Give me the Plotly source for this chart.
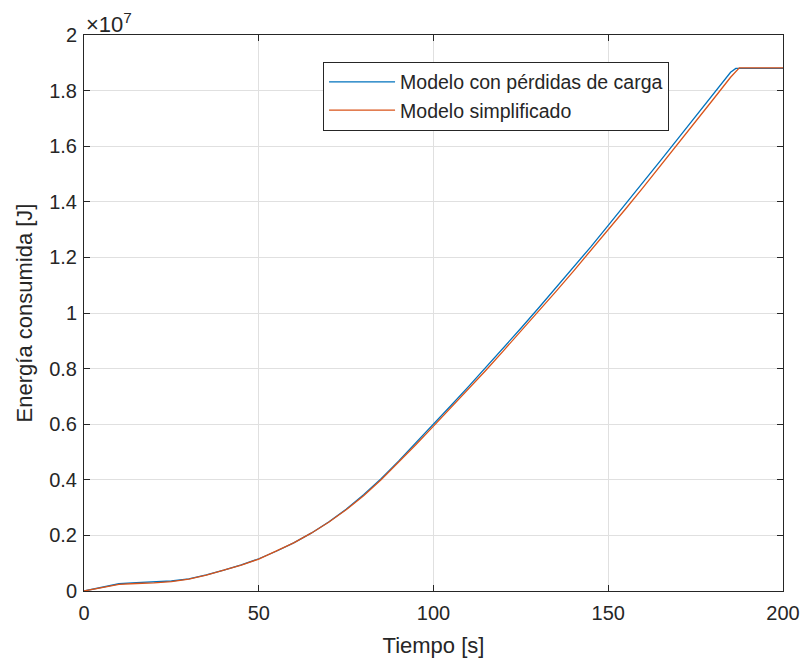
import plotly.graph_objects as go

# Time [s]
t_perdidas = [0, 5, 10, 15, 20, 25, 30, 35, 40, 45, 50, 55, 60, 65, 70, 75, 80, 85, 90, 95,
              100, 105, 110, 115, 120, 125, 130, 135, 140, 145, 150, 155, 160, 165, 170, 175,
              180, 185, 186.5, 200]
# Energy [x 1e5 J] - Modelo con pérdidas de carga
e_perdidas = [0, 1.3, 2.6, 3.0, 3.2, 3.6, 4.4, 5.8, 7.5, 9.4, 11.6, 14.3, 17.3, 20.8, 24.8, 29.4,
              34.6, 40.4, 46.7, 53.3, 60.0, 66.7, 73.5, 80.4, 87.4, 94.5, 101.7, 109.0, 116.3,
              123.8, 131.5, 139.2, 147.0, 154.9, 162.8, 170.8, 178.8, 186.6, 188.0, 188.0]

t_simpl = [0, 5, 10, 15, 20, 25, 30, 35, 40, 45, 50, 55, 60, 65, 70, 75, 80, 85, 90, 95,
           100, 105, 110, 115, 120, 125, 130, 135, 140, 145, 150, 155, 160, 165, 170, 175,
           180, 185, 187.5, 200]
# Energy [x 1e5 J] - Modelo simplificado
e_simpl = [0, 1.2, 2.4, 2.7, 2.9, 3.4, 4.3, 5.7, 7.4, 9.3, 11.5, 14.3, 17.3, 20.8, 24.7, 29.2,
           34.3, 40.0, 46.2, 52.7, 59.3, 65.9, 72.6, 79.4, 86.4, 93.4, 100.5, 107.7, 115.0,
           122.4, 129.9, 137.5, 145.2, 153.0, 160.9, 168.8, 176.8, 184.8, 188.2, 188.2]

x_ticks = [0, 50, 100, 150, 200]
y_ticks = [0, 0.2, 0.4, 0.6, 0.8, 1, 1.2, 1.4, 1.6, 1.8, 2]
y_tick_labels = ["0", "0.2", "0.4", "0.6", "0.8", "1", "1.2", "1.4", "1.6", "1.8", "2"]

FONT = "Liberation Sans, Arial, Helvetica, sans-serif"
AXC = "#262626"
GRID = "#e0e0e0"

fig = go.Figure()
fig.add_trace(go.Scatter(x=t_perdidas, y=[v * 1e5 for v in e_perdidas], mode="lines",
                         name="Modelo con pérdidas de carga",
                         line=dict(color="#0072BD", width=1.3)))
fig.add_trace(go.Scatter(x=t_simpl, y=[v * 1e5 for v in e_simpl], mode="lines",
                         name="Modelo simplificado",
                         line=dict(color="#D95319", width=1.3)))

fig.update_layout(
    width=812, height=665,
    margin=dict(l=84, r=22, t=35, b=72),
    paper_bgcolor="white", plot_bgcolor="white",
    font=dict(family=FONT, color=AXC, size=20),
    showlegend=True,
    legend=dict(x=0.342, y=0.952, xanchor="left", yanchor="top",
                bgcolor="white", bordercolor=AXC, borderwidth=1,
                font=dict(size=19.5, color=AXC), itemwidth=66,
                tracegroupgap=0),
    xaxis=dict(range=[0, 200], tickvals=x_ticks, ticks="inside", ticklen=6,
               tickcolor=AXC, showline=True, linecolor=AXC, linewidth=1, mirror="ticks",
               showgrid=True, gridcolor=GRID, gridwidth=1, zeroline=False,
               tickfont=dict(size=20, color=AXC), ticklabelstandoff=4,
               title=dict(text="Tiempo [s]", font=dict(size=22, color=AXC), standoff=14)),
    yaxis=dict(range=[0, 2e7], tickvals=[v * 1e7 for v in y_ticks], ticktext=y_tick_labels,
               ticks="inside", ticklen=6, tickcolor=AXC, showline=True, linecolor=AXC,
               linewidth=1, mirror="ticks", showgrid=True, gridcolor=GRID, gridwidth=1,
               zeroline=False, tickfont=dict(size=20, color=AXC), ticklabelstandoff=2,
               title=dict(text="Energía consumida [J]", font=dict(size=22, color=AXC), standoff=10)),
    annotations=[dict(text="×10<sup>7</sup>", xref="paper", yref="paper", x=0.0, y=1.0,
                      xanchor="left", yanchor="bottom", showarrow=False, yshift=-4,
                      font=dict(size=22, color=AXC))],
)

fig.write_html("out.html")
